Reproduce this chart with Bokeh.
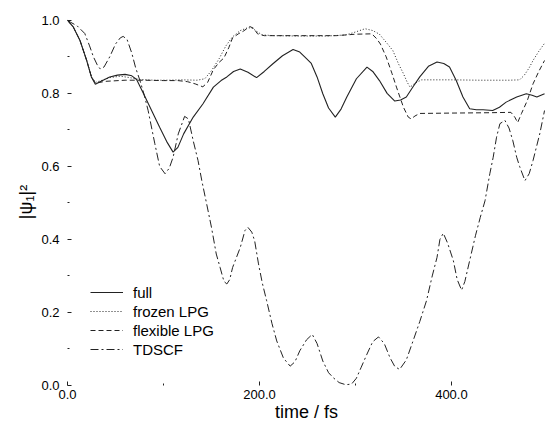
from bokeh.plotting import figure
from bokeh.models import Range1d, FixedTicker, PrintfTickFormatter, Legend, LegendItem
from bokeh.embed import file_html
from bokeh.resources import INLINE

# ---- data (time in fs, population |psi_1|^2) ----
full_t = [0, 6, 13, 20, 25, 29, 35, 44, 52, 60, 67, 72, 79, 86, 96, 104, 110, 115, 121, 131,
          141, 152, 160, 166, 173, 180, 188, 197, 205, 214, 224, 235, 242, 249, 254, 260, 266,
          272, 279, 285, 291, 301, 312, 318, 325, 333, 341, 347, 353, 360, 367, 376, 385, 392,
          398, 405, 412, 419, 426, 433, 443, 450, 457, 468, 478, 484, 489, 497]
full_v = [1.0, 0.982, 0.945, 0.89, 0.844, 0.825, 0.833, 0.845, 0.85, 0.852, 0.848, 0.838, 0.8,
          0.762, 0.707, 0.665, 0.639, 0.652, 0.689, 0.735, 0.771, 0.817, 0.835, 0.845, 0.86,
          0.867, 0.858, 0.843, 0.86, 0.881, 0.903, 0.92, 0.913, 0.895, 0.882, 0.845, 0.799,
          0.76, 0.735, 0.757, 0.79, 0.84, 0.872, 0.86, 0.835, 0.8, 0.779, 0.782, 0.79, 0.818,
          0.845, 0.874, 0.886, 0.882, 0.872, 0.835, 0.79, 0.758, 0.755, 0.755, 0.753, 0.762,
          0.776, 0.79, 0.799, 0.795, 0.79, 0.799]

frozen_t = [0, 6, 13, 20, 25, 29, 35, 44, 55, 65, 75, 90, 105, 120, 135, 143, 150, 158, 165,
            172, 180, 188, 193, 198, 203, 215, 240, 270, 290, 300, 310, 318, 325, 332, 339, 345,
            350, 354, 357, 362, 369, 400, 430, 460, 471, 476, 481, 485, 491, 497]
frozen_v = [1.0, 0.982, 0.945, 0.89, 0.846, 0.83, 0.835, 0.843, 0.847, 0.843, 0.838, 0.836,
            0.836, 0.837, 0.836, 0.84, 0.862, 0.895, 0.93, 0.955, 0.972, 0.98, 0.978, 0.968,
            0.96, 0.958, 0.957, 0.957, 0.96, 0.968, 0.977, 0.972, 0.962, 0.94, 0.917, 0.88,
            0.854, 0.83, 0.817, 0.828, 0.837, 0.837, 0.836, 0.836, 0.837, 0.85, 0.87, 0.89,
            0.915, 0.937]

flex_t = [0, 6, 13, 20, 25, 29, 40, 60, 80, 100, 115, 125, 133, 141, 146, 152, 158, 163, 168,
          172, 178, 183, 190, 194, 198, 205, 240, 280, 300, 317, 322, 326, 332, 338, 343, 350,
          355, 358, 362, 367, 400, 440, 462, 466, 469, 473, 479, 485, 491, 497]
flex_v = [1.0, 0.982, 0.945, 0.89, 0.845, 0.828, 0.833, 0.836, 0.836, 0.835, 0.835, 0.832,
          0.826, 0.818, 0.83, 0.865, 0.885, 0.897, 0.925, 0.952, 0.963, 0.97, 0.983, 0.978,
          0.963, 0.958, 0.958, 0.958, 0.962, 0.963, 0.95, 0.935, 0.9, 0.855, 0.815, 0.762,
          0.735, 0.73, 0.738, 0.745, 0.746, 0.747, 0.748, 0.735, 0.72, 0.745, 0.78, 0.826,
          0.86, 0.89]

tdscf_t = [0, 3, 10, 18, 23, 27, 31, 34, 38, 44, 50, 55, 58, 62, 67, 71, 75.5, 80, 84, 91, 96,
           101.6, 106, 110, 115.4, 122, 126, 131, 136, 140, 145, 150, 155, 159, 163, 166, 169,
           172, 180, 185, 188, 192, 195, 199, 203, 207.5, 213, 218, 225, 232, 237, 242, 249,
           255, 260, 266, 272, 277, 283, 290, 296, 301, 306, 312, 318, 324, 330, 336, 341, 346,
           353, 360, 367, 374, 380, 385, 388, 391.5, 396, 402, 406, 410.6, 414, 419, 425, 430,
           435, 440, 443.5, 447, 450.5, 455.7, 460, 464, 468, 471, 476.6, 481, 485, 492, 497]
tdscf_v = [1.0, 0.995, 0.985, 0.964, 0.93, 0.9, 0.878, 0.867, 0.872, 0.9, 0.935, 0.952, 0.956,
           0.948, 0.91, 0.87, 0.835, 0.795, 0.753, 0.662, 0.6, 0.58, 0.595, 0.625, 0.689, 0.737,
           0.73, 0.67, 0.616, 0.56, 0.497, 0.433, 0.36, 0.323, 0.285, 0.278, 0.29, 0.323, 0.378,
           0.425, 0.433, 0.42, 0.396, 0.333, 0.28, 0.232, 0.17, 0.122, 0.075, 0.053, 0.065,
           0.095, 0.125, 0.14, 0.115, 0.067, 0.035, 0.021, 0.008, 0.002, 0.004, 0.02, 0.05,
           0.086, 0.12, 0.133, 0.115, 0.076, 0.052, 0.044, 0.07, 0.122, 0.175, 0.232, 0.3,
           0.351, 0.4, 0.417, 0.39, 0.342, 0.29, 0.261, 0.285, 0.342, 0.41, 0.46, 0.506, 0.58,
           0.625, 0.68, 0.717, 0.726, 0.705, 0.67, 0.625, 0.6, 0.561, 0.58, 0.616, 0.689, 0.753]

y_major = [0.0, 0.2, 0.4, 0.6, 0.8, 1.0]
y_minor = [0.1, 0.3, 0.5, 0.7, 0.9]
x_major = [0, 200, 400]
x_minor = [100, 300]

legend_labels = ["full", "frozen LPG", "flexible LPG", "TDSCF"]

FONT = "Liberation Sans"
INK = "#222222"

p = figure(width=545, height=427, output_backend="svg", toolbar_location=None,
           x_range=Range1d(0, 498), y_range=Range1d(0, 1.005),
           min_border_left=67, min_border_right=0, min_border_top=18, min_border_bottom=42)
p.outline_line_color = None
p.xgrid.visible = False
p.ygrid.visible = False
p.background_fill_color = "white"
p.border_fill_color = "white"

r_full = p.line(full_t, full_v, line_color=INK, line_width=1.1)
r_frozen = p.line(frozen_t, frozen_v, line_color=INK, line_width=1, line_dash="1 2")
r_flex = p.line(flex_t, flex_v, line_color=INK, line_width=1, line_dash="5 3")
r_tdscf = p.line(tdscf_t, tdscf_v, line_color=INK, line_width=1, line_dash="8 3 2 3")

for ax in (p.xaxis[0], p.yaxis[0]):
    ax.axis_line_color = None
    ax.major_tick_in = 4
    ax.major_tick_out = 0
    ax.minor_tick_in = 2
    ax.minor_tick_out = 0
    ax.major_tick_line_color = INK
    ax.minor_tick_line_color = INK
    ax.major_label_text_font = FONT
    ax.major_label_text_font_size = "13px"
    ax.major_label_text_color = "black"
    ax.axis_label_text_font = FONT
    ax.axis_label_text_font_style = "normal"
    ax.axis_label_text_color = "black"
    ax.formatter = PrintfTickFormatter(format="%.1f")

p.xaxis[0].ticker = FixedTicker(ticks=x_major, minor_ticks=x_minor)
p.yaxis[0].ticker = FixedTicker(ticks=y_major, minor_ticks=y_minor)
p.xaxis[0].axis_label = "time / fs"
p.xaxis[0].axis_label_text_font_size = "18px"
p.xaxis[0].major_label_standoff = 4
p.xaxis[0].axis_label_standoff = 0
p.yaxis[0].axis_label = "|ψ₁|²"
p.yaxis[0].axis_label_text_font_size = "18px"
p.yaxis[0].major_label_standoff = 8
p.yaxis[0].axis_label_standoff = 2

legend = Legend(items=[LegendItem(label=legend_labels[0], renderers=[r_full]),
                       LegendItem(label=legend_labels[1], renderers=[r_frozen]),
                       LegendItem(label=legend_labels[2], renderers=[r_flex]),
                       LegendItem(label=legend_labels[3], renderers=[r_tdscf])],
                location=(23, 27), glyph_width=33, glyph_height=18, label_height=18,
                label_standoff=10, spacing=1, padding=0, margin=0,
                label_text_font=FONT, label_text_font_size="15px", label_text_color="black",
                border_line_color=None, background_fill_alpha=0)
p.add_layout(legend, "center")

open("out.html", "w").write(file_html(p, INLINE))
